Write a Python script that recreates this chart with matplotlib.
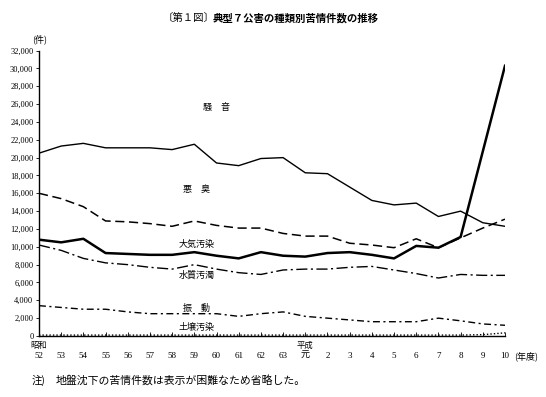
import numpy as np
import matplotlib
matplotlib.use("Agg")
import matplotlib.pyplot as plt
import matplotlib.transforms as mtransforms

plt.rcParams['font.family'] = ['Liberation Serif', 'Noto Sans CJK JP', 'DejaVu Sans']

# fiscal years: Showa 52-63, Heisei 1(元)-10
years = ['52', '53', '54', '55', '56', '57', '58', '59', '60', '61', '62', '63',
         '元', '2', '3', '4', '5', '6', '7', '8', '9', '10']

noise = [20500, 21300, 21600, 21100, 21100, 21100, 20900, 21500, 19400, 19100, 19900,
         20000, 18300, 18200, 16700, 15200, 14700, 14900, 13400, 14000, 12700, 12300]
odor = [16000, 15400, 14500, 12900, 12800, 12600, 12300, 12900, 12400, 12100, 12100,
        11500, 11200, 11200, 10400, 10200, 9900, 10900, 9900, 11000, 12100, 13100]
air = [10800, 10500, 10900, 9300, 9200, 9100, 9100, 9400, 9000, 8700, 9400,
       9000, 8900, 9300, 9400, 9100, 8700, 10100, 9900, 11100, 20700, 30300]
water = [10200, 9600, 8700, 8200, 8000, 7700, 7500, 8000, 7500, 7100, 6900,
         7400, 7500, 7500, 7700, 7800, 7400, 7000, 6500, 6900, 6800, 6800]
vibration = [3400, 3200, 3000, 3000, 2700, 2500, 2500, 2500, 2500, 2200, 2500,
             2700, 2200, 2000, 1800, 1600, 1600, 1600, 2000, 1700, 1350, 1200]
soil = [100, 100, 100, 100, 100, 100, 100, 100, 100, 100, 100,
        100, 100, 100, 100, 100, 100, 100, 100, 100, 150, 350]

x = np.arange(len(years))
jp = ['Noto Sans CJK JP']

fig = plt.figure(figsize=(5.46, 3.97), dpi=100)
ax = fig.add_axes([0.0714, 0.1537, 0.8535, 0.7188])

k = 'black'
ax.plot(x, noise, color=k, lw=1.0)
ax.plot(x, odor, color=k, lw=1.1, linestyle=(0, (6, 3)))
ax.plot(x, air, color=k, lw=1.8)
ax.plot(x, water, color=k, lw=1.0, linestyle=(0, (8, 2.5, 1.5, 2.5)))
ax.plot(x, vibration, color=k, lw=1.0, linestyle=(0, (5, 2.5, 1.5, 2.5)))
ax.plot(x, soil, color=k, lw=1.0, linestyle=(0, (1, 1.5)))

# series labels
lab = dict(fontsize=6.5, ha='center', va='center', family=jp)
ax.text(8.0, 25600, '騒　音', **lab)
ax.text(7.1, 16400, '悪　臭', **lab)
ax.text(7.1, 10300, '大気汚染', **lab)
ax.text(7.1, 6800, '水質汚濁', **lab)
ax.text(7.1, 3100, '振　動', **lab)
ax.text(7.1, 1000, '土壌汚染', **lab)

ax.set_xlim(0, len(years) - 1)
ax.set_ylim(0, 32000)
ax.set_yticks(np.arange(0, 32001, 2000))
ax.set_yticklabels([f'{v:,}' for v in range(0, 32001, 2000)], fontsize=6)
ax.set_xticks(x)
ax.set_xticklabels([])
ax.tick_params(axis='x', direction='in', length=3, width=0.6)
ax.tick_params(axis='y', direction='out', length=2.5, width=0.6, pad=1.5)

for s in ['top', 'right']:
    ax.spines[s].set_visible(False)
for s in ['left', 'bottom']:
    ax.spines[s].set_linewidth(1.0)

trans = mtransforms.blended_transform_factory(ax.transData, ax.transAxes)
for xi, yl in zip(x, years):
    ax.text(xi, -0.07, yl, transform=trans, fontsize=6.5, ha='center', va='center',
            family=['Liberation Serif', 'Noto Sans CJK JP'])
ax.text(0, -0.033, '昭和', transform=trans, fontsize=6, ha='center', va='center', family=jp)
ax.text(12, -0.033, '平成', transform=trans, fontsize=6, ha='center', va='center', family=jp)
ax.text(21.4, -0.07, '(年度)', transform=trans, fontsize=6.5, ha='left', va='center', family=jp)

fig.text(32 / 546, 1 - 39 / 397, '(件)', fontsize=6.5, ha='left', va='center', family=jp)

fig.text(163 / 546, 1 - 18 / 397, '〔第１図〕', fontsize=7.5, ha='left', va='center', family=jp)
fig.text(213 / 546, 1 - 18 / 397, '典型７公害の種類別苦情件数の推移', fontsize=7.5,
         fontweight='bold', ha='left', va='center', family=jp)

fig.text(32 / 546, 1 - 380 / 397, '注)', fontsize=7.5, ha='left', va='center', family=jp)
fig.text(56 / 546, 1 - 380 / 397, '地盤沈下の苦情件数は表示が困難なため省略した。',
         fontsize=7.8, ha='left', va='center', family=jp)

fig.savefig('out.png', dpi=100)
